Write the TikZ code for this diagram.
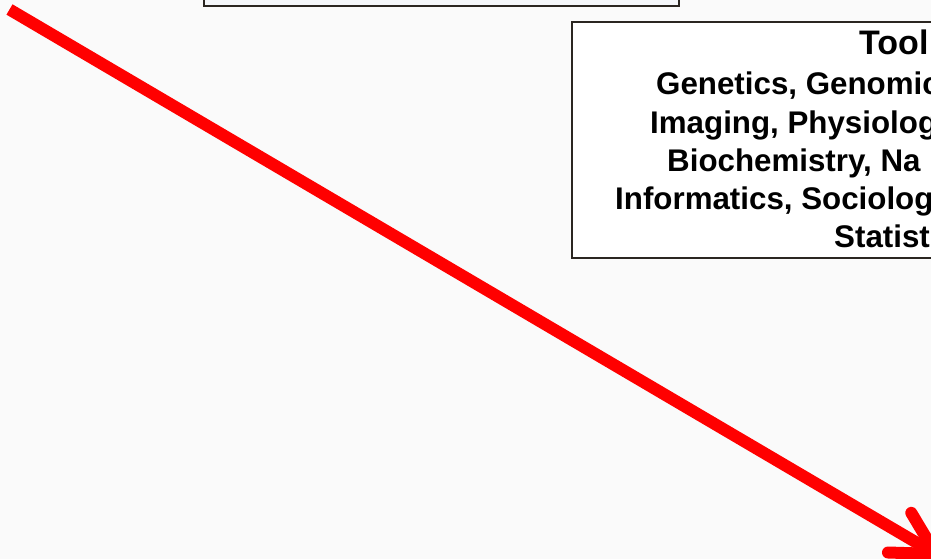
\documentclass[tikz,border=0pt]{standalone}
\usepackage{fontspec}
\setmainfont{Liberation Sans}
\usetikzlibrary{arrows.meta,positioning}
\definecolor{ArrowClr}{rgb}{1,0,0}
\definecolor{FrameClr}{rgb}{0.17,0.15,0.13}
\definecolor{PaperClr}{rgb}{0.98,0.98,0.98}
\definecolor{BoxClr}{rgb}{0.96,0.97,0.98}

\begin{document}
\begin{tikzpicture}[x=1pt,y=-1pt,
  panel/.style={draw=FrameClr,line width=2pt,fill=BoxClr,inner sep=0pt},
  toolline/.style={anchor=base west,inner sep=0pt,font=\bfseries\fontsize{31.3}{31.3}\selectfont},
  bigarrow/.style={draw=ArrowClr,line width=12pt,-{Straight Barb[length=42pt,width=46pt,round]}}]
\fill[PaperClr] (0,0) rectangle (931,559);
\useasboundingbox (0,0) rectangle (931,559);
\clip (0,0) rectangle (931,559);

% boxes
\node[panel,anchor=south west,minimum width=475pt,minimum height=60pt] (topbox) at (203,7) {};
\node[panel,fill=white,anchor=north west,minimum width=420pt,minimum height=236pt] (toolbox) at (571,21) {};

% text of the tools box
\node[toolline,font=\bfseries\fontsize{34}{34}\selectfont] (tooltitle) at (859,55) {Tool};
\node[toolline] (toolA) at (656,95) {Genetics, Genomic};
\node[toolline] (toolB) at (650,133) {Imaging, Physiolog};
\node[toolline] (toolC) at (667,171) {Biochemistry, Na};
\node[toolline] (toolD) at (615,209) {Informatics, Sociolog};
\node[toolline] (toolE) at (834,247) {Statist};

% red arrow
\coordinate (tail) at (9.5,9.5);
\coordinate (tip) at (941,557);
\draw[bigarrow] (tail) -- (tip);

\end{tikzpicture}
\end{document}
